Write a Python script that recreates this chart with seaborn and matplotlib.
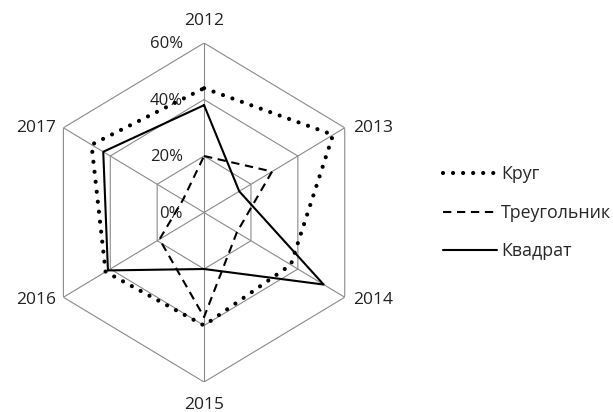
import numpy as np
import pandas as pd
import seaborn as sns
import matplotlib.pyplot as plt

years = ['2012', '2013', '2014', '2015', '2016', '2017']
krug = [44, 55, 37, 40, 42, 48]
treugolnik = [20, 29, 14, 37, 19, 9]
kvadrat = [38, 15, 51, 20, 41, 43]
r_ticks = [0, 20, 40, 60]
r_tick_labels = ['0%', '20%', '40%', '60%']

sns.set_theme(style='white')
plt.rcParams['font.family'] = ['Open Sans', 'DejaVu Sans']

fig = plt.figure(figsize=(6.13, 4.12), dpi=100)
ax = fig.add_axes([0.0679, 0.0728, 0.530, 0.8228], projection='polar')
ax.set_aspect('auto')
ax.set_theta_zero_location('N')
ax.set_theta_direction(-1)
ax.set_ylim(0, r_ticks[-1])
ax.grid(False)
ax.spines['polar'].set_visible(False)
ax.set_facecolor('white')

angles = np.linspace(0, 2 * np.pi, len(years), endpoint=False)
closed = np.append(angles, angles[0])

# hexagonal grid
grid_color = '#8a8a8a'
for r in r_ticks[1:]:
    ax.plot(closed, [r] * len(closed), color=grid_color, lw=0.8, zorder=1)
for a in angles:
    ax.plot([a, a], [0, r_ticks[-1]], color=grid_color, lw=0.8, zorder=1)

# radial labels left of the top spoke
for r, lab in zip(r_ticks, r_tick_labels):
    ax.annotate(lab, xy=(0, r), xytext=(-21, -1), textcoords='offset pixels',
                ha='right', va='center', fontsize=12, color='#222222')

# category labels
for a, lab in zip(angles, years):
    sx, cy = np.sin(a), np.cos(a)
    if abs(sx) < 0.1:
        off = (0, 22 if cy > 0 else -23)
        ha = 'center'
    else:
        off = (8 if sx > 0 else -7, 0 if cy > 0 else -3)
        ha = 'left' if sx > 0 else 'right'
    ax.annotate(lab, xy=(a, r_ticks[-1]), xytext=off, textcoords='offset pixels',
                ha=ha, va='center', fontsize=12.5, color='#222222')

series = [
    ('Круг', krug, dict(linestyle=(0, (0.01, 2.4)), lw=3, dash_capstyle='round')),
    ('Треугольник', treugolnik, dict(linestyle=(0, (4, 2.7)), lw=1.5)),
    ('Квадрат', kvadrat, dict(linestyle='-', lw=1.5)),
]
for name, vals, style in series:
    df = pd.DataFrame({'angle': closed, 'value': vals + vals[:1]})
    sns.lineplot(data=df, x='angle', y='value', ax=ax, sort=False, estimator=None,
                 color='black', label=name, zorder=3, **style)

ax.set_xlabel('')
ax.set_ylabel('')
ax.set_xticks([])
ax.set_yticks([])

handles, labels = ax.get_legend_handles_labels()
ax.legend(handles, labels, loc='upper left', bbox_to_anchor=(0.7227, 0.5985),
          bbox_transform=fig.transFigure, frameon=False, borderpad=0,
          borderaxespad=0, handlelength=3.03, handletextpad=0.25,
          labelspacing=1.15, fontsize=12.8)

fig.savefig('out.png', dpi=100, facecolor='white')
